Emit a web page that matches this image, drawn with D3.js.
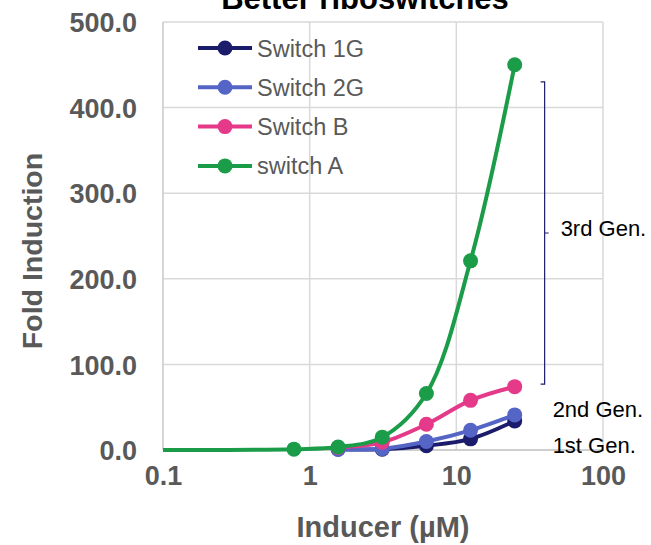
<!DOCTYPE html>
<html>
<head>
<meta charset="utf-8">
<script src="https://cdn.jsdelivr.net/npm/d3@7/dist/d3.min.js"></script>
<style>
  body { margin: 0; background: #fff; }
  svg { display: block; font-family: Arial, "Liberation Sans", sans-serif; }
</style>
</head>
<body>
<div id="chart-area"></div>
<script>
// data
var seriesNames = ['Switch 1G', 'Switch 2G', 'Switch B', 'switch A'];
var seriesColors = ['#1c1c6c', '#5465c6', '#e5398a', '#1b9c49'];

var doseSwitch = [1.5625, 3.125, 6.25, 12.5, 25];
var doseA = [0.01, 0.78125, 1.5625, 3.125, 6.25, 12.5, 25];

var fold1G = [1, 1, 5, 13, 34];
var fold2G = [1, 1.5, 10, 23, 41];
var foldB = [3, 9, 30, 58, 74];
var foldA = [0.5, 1, 3.5, 15, 66, 221, 450];

var yTicks = [0, 100, 200, 300, 400, 500];
var xTicks = [0.1, 1, 10, 100];

// annotations
var bracketX = 40;
var bracketRange = [77, 430];
var genLabels = [
  { text: '3rd Gen.', value: 250 },
  { text: '2nd Gen.', value: 38 },
  { text: '1st Gen.', value: -3 }
];

var series = [
  { name: seriesNames[0], color: seriesColors[0], x: doseSwitch, y: fold1G },
  { name: seriesNames[1], color: seriesColors[1], x: doseSwitch, y: fold2G },
  { name: seriesNames[2], color: seriesColors[2], x: doseSwitch, y: foldB },
  { name: seriesNames[3], color: seriesColors[3], x: doseA, y: foldA }
];

var W = 651, H = 545;
var margin = { left: 163, right: 48, top: 22, bottom: 95 };
var width = W - margin.left - margin.right;
var height = H - margin.top - margin.bottom;

var svg = d3.select('#chart-area')
  .append('svg')
  .attr('width', W)
  .attr('height', H);

var g = svg.append('g')
  .attr('transform', 'translate(' + margin.left + ', ' + margin.top + ')');

var x = d3.scaleLog()
  .domain([0.1, 100])
  .range([0, width]);

var y = d3.scaleLinear()
  .domain([0, 500])
  .range([height, 0]);

// gridlines
g.selectAll('.hgrid')
  .data(yTicks.filter(function(d) { return d > 0; }))
  .enter()
  .append('line')
    .attr('x1', 0)
    .attr('x2', width)
    .attr('y1', function(d) { return y(d); })
    .attr('y2', function(d) { return y(d); })
    .attr('stroke', '#d9d9d9')
    .attr('stroke-width', 1.5);

g.selectAll('.vgrid')
  .data(xTicks)
  .enter()
  .append('line')
    .attr('x1', function(d) { return x(d); })
    .attr('x2', function(d) { return x(d); })
    .attr('y1', 0)
    .attr('y2', height)
    .attr('stroke', function(d) { return d === 0.1 ? '#c8c8c8' : '#d9d9d9'; })
    .attr('stroke-width', 1.5);

// x axis line
g.append('line')
  .attr('x1', 0)
  .attr('x2', width)
  .attr('y1', y(0))
  .attr('y2', y(0))
  .attr('stroke', '#bfbfbf')
  .attr('stroke-width', 1.5);

// Y Axis
var yAxis = g.append('g')
  .call(d3.axisLeft(y).tickValues(yTicks).tickSize(0).tickPadding(26).tickFormat(d3.format('.1f')));
yAxis.select('.domain').remove();
yAxis.selectAll('text')
  .attr('fill', '#595959')
  .attr('font-size', '27px')
  .attr('font-weight', 'bold')
  .attr('dy', '0.36em');

// X Axis
var xAxis = g.append('g')
  .attr('transform', 'translate(0, ' + height + ')')
  .call(d3.axisBottom(x).tickValues(xTicks).tickSize(0).tickPadding(26).tickFormat(function(d) { return String(d); }));
xAxis.select('.domain').remove();
xAxis.selectAll('text')
  .attr('fill', '#595959')
  .attr('font-size', '27px')
  .attr('font-weight', 'bold')
  .attr('dy', '0.32em');

// clip for curves
svg.append('clipPath')
  .attr('id', 'plot-clip')
  .append('rect')
    .attr('x', 0)
    .attr('y', -20)
    .attr('width', width)
    .attr('height', height + 40);

var line = d3.line()
  .x(function(d) { return x(d[0]); })
  .y(function(d) { return y(d[1]); })
  .curve(d3.curveCatmullRom.alpha(0.5));

series.forEach(function(s) {
  var pts = s.x.map(function(v, i) { return [v, s.y[i]]; });
  var sg = g.append('g');
  sg.append('path')
    .attr('d', line(pts))
    .attr('fill', 'none')
    .attr('stroke', s.color)
    .attr('stroke-width', 4)
    .attr('stroke-linejoin', 'round')
    .attr('clip-path', 'url(#plot-clip)');
  sg.selectAll('circle')
    .data(pts.filter(function(d) { return d[0] >= 0.1; }))
    .enter()
    .append('circle')
      .attr('cx', function(d) { return x(d[0]); })
      .attr('cy', function(d) { return y(d[1]); })
      .attr('r', 7.5)
      .attr('fill', s.color);
});

// bracket
var bx = x(bracketX);
var bTop = y(bracketRange[1]);
var bBot = y(bracketRange[0]);
var bMid = (bTop + bBot) / 2;
g.append('path')
  .attr('d', 'M' + (bx - 4) + ',' + bTop + 'H' + bx + 'V' + bBot + 'H' + (bx - 4) +
    'M' + bx + ',' + bMid + 'H' + (bx + 4))
  .attr('fill', 'none')
  .attr('stroke', '#1c1c6c')
  .attr('stroke-width', 1.2);

g.selectAll('.gen')
  .data(genLabels)
  .enter()
  .append('text')
    .attr('x', function(d, i) { return i === 0 ? bx + 16 : bx + 8; })
    .attr('y', function(d) { return y(d.value); })
    .attr('font-size', '22px')
    .attr('fill', '#000')
    .text(function(d) { return d.text; });

// Legend
var legend = svg.append('g')
  .attr('transform', 'translate(198, 48)');
var rows = legend.selectAll('.row')
  .data(series)
  .enter()
  .append('g')
    .attr('transform', function(d, i) { return 'translate(0, ' + (i * 39.3) + ')'; });
rows.append('line')
  .attr('x1', 0)
  .attr('x2', 54)
  .attr('stroke', function(d) { return d.color; })
  .attr('stroke-width', 4);
rows.append('circle')
  .attr('cx', 27)
  .attr('r', 7.5)
  .attr('fill', function(d) { return d.color; });
rows.append('text')
  .attr('x', 59)
  .attr('y', 8.5)
  .attr('font-size', '23.5px')
  .attr('fill', '#595959')
  .text(function(d) { return d.name; });

// Title (cut off at the top edge, as in the original)
svg.append('text')
  .attr('x', 365)
  .attr('y', 9)
  .attr('text-anchor', 'middle')
  .attr('font-size', '31px')
  .attr('font-weight', 'bold')
  .attr('fill', '#000')
  .text('Better riboswitches');

// X Label
svg.append('text')
  .attr('x', margin.left + width / 2)
  .attr('y', 537)
  .attr('text-anchor', 'middle')
  .attr('font-size', '29px')
  .attr('font-weight', 'bold')
  .attr('fill', '#595959')
  .text('Inducer (\u00b5M)');

// Y Label
svg.append('text')
  .attr('transform', 'translate(42, 251) rotate(-90)')
  .attr('text-anchor', 'middle')
  .attr('font-size', '28.5px')
  .attr('font-weight', 'bold')
  .attr('fill', '#595959')
  .text('Fold Induction');
</script>
</body>
</html>
